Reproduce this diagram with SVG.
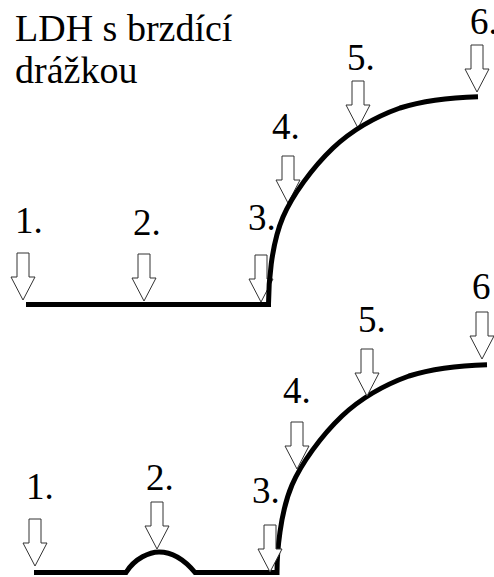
<svg xmlns="http://www.w3.org/2000/svg" width="494" height="577" viewBox="0 0 494 577">
<style>
text{font-family:"Liberation Serif","Times New Roman",serif;font-size:37px;fill:#000}
#title text{font-size:38px}
.a{fill:#fff;stroke:#333;stroke-width:1}
.l{fill:none;stroke:#000;stroke-width:5}
</style>
<defs><path id="ar" class="a" d="M-6,-47V-23H-12L0,0L12,-23H6V-47Z"/></defs>
<rect width="494" height="577" fill="#fff"/>
<g id="title"><text x="15" y="41">LDH s brzdící</text><text x="15" y="83">drážkou</text></g>
<g id="top-arrows">
<use href="#ar" x="23" y="300"/><use href="#ar" x="144" y="301"/><use href="#ar" x="261" y="302"/><use href="#ar" x="288" y="203"/><use href="#ar" x="358" y="128"/><use href="#ar" x="477" y="92"/>
</g>
<g id="connectors">
<path class="l" d="M26,304.500H268.500V304C268.500,285 271,245 283,217C292,196 312,168 333,148C350,132 375,117 400,108C425,100 450,97.500 478,96.700"/>
<path class="l" d="M34,572.500H126C135,558 150,552 159,552C170,552 183,558 195,572.500H277V572C277,553 280,513 292,485C301,464 321,436 342,416C359,400 384,385 409,376C434,368 459,365.500 487,364.700"/>
</g>
<g id="bottom-arrows">
<use href="#ar" x="35" y="566"/><use href="#ar" x="157" y="549"/><use href="#ar" x="270" y="572"/><use href="#ar" x="297" y="469"/><use href="#ar" x="367" y="396"/><use href="#ar" x="482" y="359"/>
</g>
<g id="top-labels">
<text x="15" y="233">1.</text><text x="133" y="235">2.</text><text x="248" y="230">3.</text><text x="272" y="139">4.</text><text x="347" y="70">5.</text><text x="470" y="34">6.</text>
</g>
<g id="bottom-labels">
<text x="26" y="499">1.</text><text x="146" y="490">2.</text><text x="252" y="503">3.</text><text x="283" y="403">4.</text><text x="358" y="332">5.</text><text x="472" y="299">6</text>
</g>
</svg>
